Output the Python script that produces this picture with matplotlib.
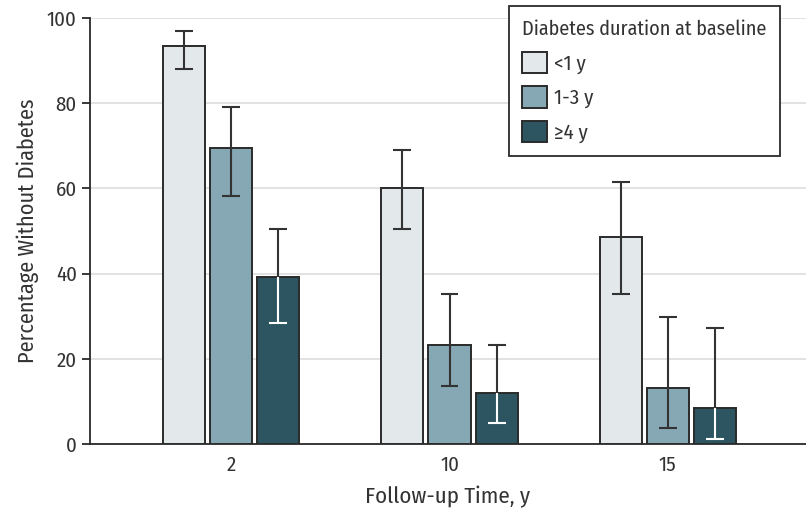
import numpy as np
import matplotlib.pyplot as plt

plt.rcParams['font.family'] = ['Fira Sans Condensed', 'Roboto Condensed', 'Liberation Sans Narrow',
                               'Roboto', 'DejaVu Sans']

tiempos = ['2', '10', '15']
grupos = ['<1 y', '1-3 y', '≥4 y']
valores = [
    [93.4, 60.1, 48.6],
    [69.5, 23.2, 13.1],
    [39.2, 12.0, 8.5],
]
ic_bajo = [
    [88.0, 50.5, 35.2],
    [58.2, 13.6, 3.8],
    [28.4, 4.9, 1.2],
]
ic_alto = [
    [97.0, 69.0, 61.5],
    [79.1, 35.2, 29.8],
    [50.5, 23.2, 27.2],
]
colores = ['#e3e8ea', '#86a7b4', '#2d5561']
gris = '#333333'

fig = plt.figure(figsize=(8.06, 5.12), dpi=100)
ax = fig.add_axes([0.1117, 0.1328, 0.8883, 0.832])

x = np.arange(len(tiempos))
ancho = 0.193
paso = 0.216
cap = 0.041

for i in range(3):
    pos = x + (i - 1) * paso
    ax.bar(pos, valores[i], width=ancho, color=colores[i], edgecolor='#2a2a2a',
           linewidth=1.4, label=grupos[i], zorder=3)
    # barras de error: la parte dentro de la barra oscura va en blanco
    color_abajo = 'white' if i == 2 else gris
    ax.vlines(pos, valores[i], ic_alto[i], color=gris, linewidth=1.5, zorder=4)
    ax.vlines(pos, ic_bajo[i], valores[i], color=color_abajo, linewidth=1.5, zorder=4)
    ax.hlines(ic_alto[i], pos - cap, pos + cap, color=gris, linewidth=1.5, zorder=4)
    ax.hlines(ic_bajo[i], pos - cap, pos + cap, color=color_abajo, linewidth=1.5, zorder=4)

ax.set_xlim(-0.647, 2.633)
ax.set_ylim(0, 100)
ax.set_yticks([0, 20, 40, 60, 80, 100])
ax.set_xticks(x)
ax.set_xticklabels(tiempos)
ax.yaxis.grid(True, color='#dddddd', linewidth=1.2, zorder=0)
ax.set_axisbelow(True)

for s in ['top', 'right']:
    ax.spines[s].set_visible(False)
for s in ['left', 'bottom']:
    ax.spines[s].set_color('#2a2a2a')
    ax.spines[s].set_linewidth(1.3)

ax.tick_params(axis='x', length=0, labelsize=15, labelcolor=gris, pad=8)
ax.tick_params(axis='y', length=6, width=1.3, color='#2a2a2a', labelsize=15, labelcolor=gris)

ax.set_xlabel('Follow-up Time, y', fontsize=16.5, color=gris, labelpad=8)
ax.set_ylabel('Percentage Without Diabetes', fontsize=16, color=gris, labelpad=6)

leg = ax.legend(title='Diabetes duration at baseline', loc='upper right',
                bbox_to_anchor=(0.9637, 1.028), borderaxespad=0,
                fontsize=15, title_fontsize=14.5,
                fancybox=False, framealpha=1, edgecolor='#2a2a2a',
                handlelength=1.2, handleheight=1.2, labelspacing=0.6,
                borderpad=0.65, handletextpad=0.35)
leg._legend_box.align = 'left'
leg.get_frame().set_linewidth(1.3)
plt.setp(leg.get_texts(), color=gris)
leg.get_title().set_color(gris)

fig.savefig('out.png', dpi=100)
